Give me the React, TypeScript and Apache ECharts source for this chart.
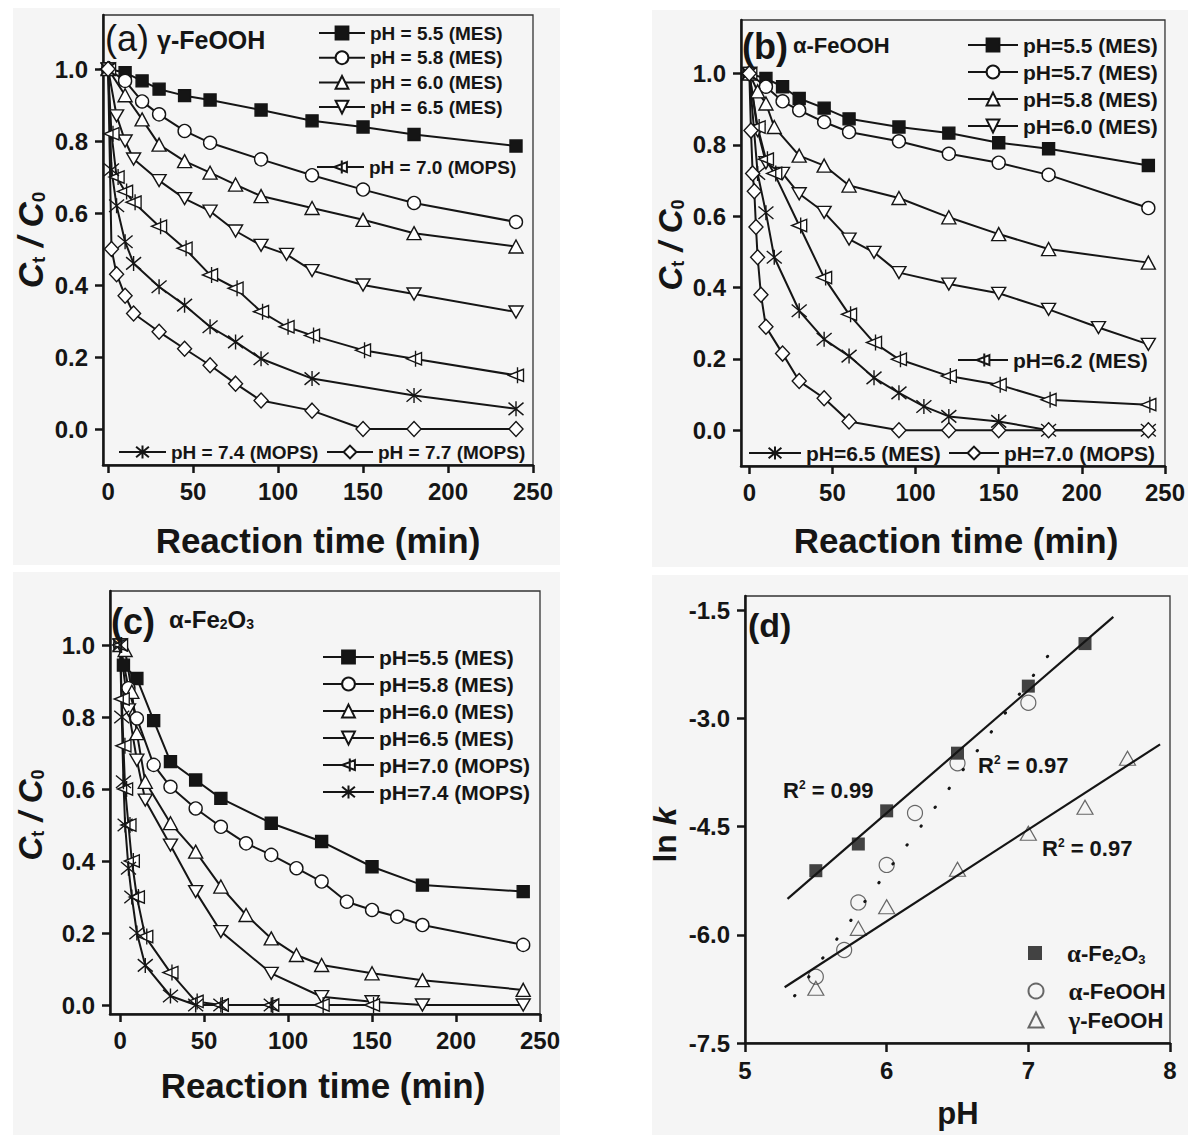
import React, { useEffect, useRef } from 'react';
import * as echarts from 'echarts';

const FONT = '"Liberation Sans", Arial, Helvetica, sans-serif';
const SERIF = '"Liberation Serif", "Times New Roman", serif';
const INK = '#151515';

// ---------- Panel (a) γ-FeOOH ----------
const aT55 = [0, 10, 20, 30, 45, 60, 90, 120, 150, 180, 240];
const aV55 = [1.0, 0.99, 0.967, 0.944, 0.926, 0.914, 0.886, 0.856, 0.839, 0.818, 0.786];
const aT58 = [0, 10, 20, 30, 45, 60, 90, 120, 150, 180, 240];
const aV58 = [1.0, 0.967, 0.91, 0.874, 0.828, 0.795, 0.749, 0.705, 0.665, 0.628, 0.575];
const aT60 = [0, 10, 20, 30, 45, 60, 75, 90, 120, 150, 180, 240];
const aV60 = [1.0, 0.927, 0.86, 0.79, 0.744, 0.712, 0.679, 0.647, 0.614, 0.581, 0.544, 0.507];
const aT65 = [0, 5, 10, 15, 30, 45, 60, 75, 90, 105, 120, 150, 180, 240];
const aV65 = [1.0, 0.87, 0.8, 0.75, 0.69, 0.64, 0.605, 0.55, 0.51, 0.485, 0.44, 0.4, 0.375, 0.325];
const aT70 = [0, 2, 5, 10, 15, 30, 45, 60, 75, 90, 105, 120, 150, 180, 240];
const aV70 = [1.0, 0.82, 0.7, 0.66, 0.63, 0.563, 0.502, 0.428, 0.391, 0.326, 0.284, 0.26, 0.219, 0.195, 0.149];
const aT74 = [0, 2, 5, 10, 15, 30, 45, 60, 75, 90, 120, 180, 240];
const aV74 = [1.0, 0.72, 0.62, 0.52, 0.46, 0.395, 0.344, 0.284, 0.242, 0.195, 0.14, 0.093, 0.056];
const aT77 = [0, 2, 5, 10, 15, 30, 45, 60, 75, 90, 120, 150, 180, 240];
const aV77 = [1.0, 0.5, 0.43, 0.37, 0.321, 0.27, 0.223, 0.177, 0.126, 0.079, 0.051, 0, 0, 0];

// ---------- Panel (b) α-FeOOH ----------
const bT55 = [0, 10, 20, 30, 45, 60, 90, 120, 150, 180, 240];
const bV55 = [1.0, 0.986, 0.963, 0.93, 0.903, 0.873, 0.85, 0.833, 0.806, 0.789, 0.742];
const bT57 = [0, 10, 20, 30, 45, 60, 90, 120, 150, 180, 240];
const bV57 = [1.0, 0.963, 0.922, 0.897, 0.864, 0.836, 0.81, 0.775, 0.75, 0.716, 0.623];
const bT58 = [0, 5, 10, 15, 30, 45, 60, 90, 120, 150, 180, 240];
const bV58 = [1.0, 0.95, 0.916, 0.85, 0.77, 0.742, 0.686, 0.651, 0.597, 0.55, 0.508, 0.47];
const bT60 = [0, 5, 10, 20, 30, 45, 60, 75, 90, 120, 150, 180, 210, 240];
const bV60 = [1.0, 0.84, 0.75, 0.72, 0.663, 0.611, 0.536, 0.499, 0.442, 0.41, 0.384, 0.339, 0.288, 0.241];
const bT62 = [0, 5, 10, 15, 30, 45, 60, 75, 90, 120, 150, 180, 240];
const bV62 = [1.0, 0.85, 0.76, 0.72, 0.574, 0.428, 0.325, 0.246, 0.199, 0.152, 0.128, 0.086, 0.072];
const bT65 = [0, 5, 10, 15, 30, 45, 60, 75, 90, 105, 120, 150, 180, 240];
const bV65 = [1.0, 0.72, 0.61, 0.485, 0.335, 0.255, 0.208, 0.147, 0.105, 0.067, 0.039, 0.025, 0, 0];
const bT70 = [0, 1, 2, 3, 4, 5, 7, 10, 20, 30, 45, 60, 90, 120, 150, 180, 240];
const bV70 = [1.0, 0.84, 0.72, 0.67, 0.57, 0.485, 0.38, 0.29, 0.215, 0.138, 0.09, 0.025, 0, 0, 0, 0, 0];

// ---------- Panel (c) α-Fe2O3 ----------
const cT55 = [0, 2, 10, 20, 30, 45, 60, 90, 120, 150, 180, 240];
const cV55 = [1.0, 0.944, 0.907, 0.79, 0.676, 0.625, 0.574, 0.505, 0.454, 0.384, 0.333, 0.315];
const cT58 = [0, 5, 10, 20, 30, 45, 60, 75, 90, 105, 120, 135, 150, 165, 180, 240];
const cV58 = [1.0, 0.88, 0.796, 0.667, 0.606, 0.546, 0.495, 0.449, 0.417, 0.38, 0.343, 0.287, 0.264, 0.245, 0.222, 0.167];
const cT60 = [0, 3, 7, 10, 15, 30, 45, 60, 75, 90, 105, 120, 150, 180, 240];
const cV60 = [1.0, 0.986, 0.87, 0.755, 0.62, 0.505, 0.426, 0.329, 0.25, 0.185, 0.139, 0.111, 0.088, 0.069, 0.042];
const cT65 = [0, 5, 10, 15, 30, 45, 60, 90, 120, 150, 180, 240];
const cV65 = [1.0, 0.82, 0.68, 0.569, 0.444, 0.315, 0.204, 0.088, 0.023, 0.009, 0, 0];
const cT70 = [0, 1, 2, 3, 5, 7, 10, 15, 30, 45, 60, 90, 120, 150];
const cV70 = [1.0, 0.85, 0.72, 0.6, 0.5, 0.4, 0.3, 0.19, 0.09, 0.01, 0, 0, 0, 0];
const cT74 = [0, 1, 2, 3, 5, 7, 10, 15, 30, 45, 60, 90];
const cV74 = [1.0, 0.8, 0.62, 0.5, 0.38, 0.3, 0.2, 0.11, 0.025, 0, 0, 0];

// ---------- Panel (d) ln k vs pH ----------
const dPhFe2O3 = [5.5, 5.8, 6.0, 6.5, 7.0, 7.4];
const dLnkFe2O3 = [-5.11, -4.74, -4.28, -3.48, -2.55, -1.96];
const dPhAFeOOH = [5.5, 5.7, 5.8, 6.0, 6.2, 6.5, 7.0];
const dLnkAFeOOH = [-6.58, -6.21, -5.55, -5.03, -4.31, -3.62, -2.78];
const dPhGFeOOH = [5.5, 5.8, 6.0, 6.5, 7.0, 7.4, 7.7];
const dLnkGFeOOH = [-6.74, -5.91, -5.61, -5.09, -4.59, -4.23, -3.55];
const fitRangeFe2O3 = [5.3, 7.6];
const fitRangeAFeOOH = [5.35, 7.15];
const fitRangeGFeOOH = [5.28, 7.93];

const timeTicks = [0, 50, 100, 150, 200, 250];
const ratioTicks = [0, 0.2, 0.4, 0.6, 0.8, 1.0];
const lnkTicks = [-7.5, -6.0, -4.5, -3.0, -1.5];

const SYM: any = {
  sq: { symbol: 'rect', size: 12, fill: INK },
  ci: { symbol: 'circle', size: 13, fill: '#fff' },
  tu: { symbol: 'triangle', size: [14, 13], fill: '#fff' },
  td: { symbol: 'path://M0,0L10,0L5,8.7Z', size: [14, 12], fill: '#fff' },
  lt: { symbol: 'path://M10,0L0,5L10,10Z M6,-1.5L6,11.5', size: [15, 16], fill: '#fff' },
  xs: { symbol: 'path://M0,0L10,10M10,0L0,10M5,-1L5,11', size: [15, 15], fill: '#fff' },
  di: { symbol: 'diamond', size: [14, 15], fill: '#fff' },
};

function lineSeries(name: string, idx: number, t: number[], v: number[], key: string) {
  const s = SYM[key];
  return {
    type: 'line',
    name,
    xAxisIndex: idx,
    yAxisIndex: idx,
    data: t.map((x, i) => [x, v[i]]),
    symbol: s.symbol,
    symbolSize: s.size,
    showSymbol: true,
    itemStyle: { color: s.fill, borderColor: INK, borderWidth: 1.4 },
    lineStyle: { color: INK, width: 2 },
    emphasis: { disabled: true },
  };
}

function fit(xs: number[], ys: number[]) {
  const n = xs.length;
  const mx = xs.reduce((a, b) => a + b, 0) / n;
  const my = ys.reduce((a, b) => a + b, 0) / n;
  let sxy = 0, sxx = 0;
  for (let i = 0; i < n; i++) { sxy += (xs[i] - mx) * (ys[i] - my); sxx += (xs[i] - mx) ** 2; }
  const b = sxy / sxx;
  const a = my - b * mx;
  return (x: number) => a + b * x;
}

const axisLineStyle = { show: true, onZero: false, lineStyle: { color: INK, width: 2.5 } };
const tickStyle = { color: INK, width: 2.5 };
const labelBase = { fontSize: 24, fontWeight: 'bold', color: INK, fontFamily: FONT };

function timeAxis(idx: number, min: number) {
  return {
    type: 'value', gridIndex: idx, min, max: 250,
    axisLine: axisLineStyle,
    axisTick: { show: true, length: 8, lineStyle: tickStyle, customValues: timeTicks },
    axisLabel: { ...labelBase, margin: 14, customValues: timeTicks, formatter: (v: number) => String(Math.round(v)) },
    splitLine: { show: false },
  };
}
function ratioAxis(idx: number, min: number) {
  return {
    type: 'value', gridIndex: idx, min, max: 1.15,
    axisLine: axisLineStyle,
    axisTick: { show: true, length: 8, lineStyle: tickStyle, customValues: ratioTicks },
    axisLabel: { ...labelBase, margin: 15, customValues: ratioTicks, formatter: (v: number) => v.toFixed(1) },
    splitLine: { show: false },
  };
}

function legend(names: string[], left: number, top: number, itemWidth: number, fontSize: number, lineHeight: number, itemGap: number, orient = 'vertical') {
  return {
    show: true, orient, left, top, padding: 0, itemGap, itemWidth, itemHeight: 16,
    data: names, selectedMode: false,
    formatter: (n: string) => n.split('|')[1],
    textStyle: { fontSize, fontWeight: 'bold', fontFamily: FONT, color: INK, lineHeight },
  };
}

const dRich = {
  sp: { width: 20 },
  g: { fontFamily: SERIF, fontSize: 25, fontWeight: 'bold', color: INK, lineHeight: 26 },
  t: { fontFamily: FONT, fontSize: 22, fontWeight: 'bold', color: INK, lineHeight: 26 },
  s: { fontFamily: FONT, fontSize: 13, fontWeight: 'bold', color: INK, verticalAlign: 'bottom', lineHeight: 26 },
};
function dLegend(name: string, text: string, cx: number, cy: number, size: number) {
  return {
    show: true, orient: 'vertical', left: cx - size / 2, top: cy - 13, padding: 0,
    itemWidth: size, itemHeight: size, data: [name], selectedMode: false,
    formatter: () => text,
    textStyle: { fontSize: 22, fontWeight: 'bold', fontFamily: FONT, color: INK, lineHeight: 26, rich: dRich },
  };
}

function txt(x: number, y: number, text: string, fontSize: number, extra: any = {}) {
  return {
    type: 'text', x, y, z: 100, silent: true,
    rotation: extra.rotation || 0,
    style: {
      text, fontSize, fontWeight: extra.fontWeight || 'bold', fontFamily: extra.fontFamily || FONT,
      fill: INK, align: extra.align || 'left', verticalAlign: 'middle', rich: extra.rich,
    },
  };
}

function ctRich(size: number) {
  return {
    c: { fontSize: size, fontWeight: 'bold', fontStyle: 'italic', fontFamily: FONT, fill: INK },
    s: { fontSize: Math.round(size * 0.55), fontWeight: 'bold', fontFamily: FONT, fill: INK, verticalAlign: 'bottom' },
  };
}
const ctText = '{c|C}{s|t}{c| / C}{s|0}';
const r2Rich = {
  r: { fontSize: 22, fontWeight: 'bold', fontFamily: FONT, fill: INK },
  u: { fontSize: 12, fontWeight: 'bold', fontFamily: FONT, fill: INK, verticalAlign: 'top' },
};

export default function App() {
  const ref = useRef<HTMLDivElement>(null);
  useEffect(() => {
    if (!ref.current) return;
    const chart = echarts.init(ref.current, undefined, { renderer: 'svg' });

    const fFe = fit(dPhFe2O3, dLnkFe2O3);
    const fA = fit(dPhAFeOOH, dLnkAFeOOH);
    const fG = fit(dPhGFeOOH, dLnkGFeOOH);

    const grid = (left: number, top: number, width: number, height: number) => ({
      left, top, width, height, show: true, borderColor: '#333', borderWidth: 1.3, backgroundColor: 'transparent',
    });

    const series: any[] = [
      lineSeries('a|pH = 5.5 (MES)', 0, aT55, aV55, 'sq'),
      lineSeries('a|pH = 5.8 (MES)', 0, aT58, aV58, 'ci'),
      lineSeries('a|pH = 6.0 (MES)', 0, aT60, aV60, 'tu'),
      lineSeries('a|pH = 6.5 (MES)', 0, aT65, aV65, 'td'),
      lineSeries('a|pH = 7.0 (MOPS)', 0, aT70, aV70, 'lt'),
      lineSeries('a|pH = 7.4 (MOPS)', 0, aT74, aV74, 'xs'),
      lineSeries('a|pH = 7.7 (MOPS)', 0, aT77, aV77, 'di'),

      lineSeries('b|pH=5.5 (MES)', 1, bT55, bV55, 'sq'),
      lineSeries('b|pH=5.7 (MES)', 1, bT57, bV57, 'ci'),
      lineSeries('b|pH=5.8 (MES)', 1, bT58, bV58, 'tu'),
      lineSeries('b|pH=6.0 (MES)', 1, bT60, bV60, 'td'),
      lineSeries('b|pH=6.2 (MES)', 1, bT62, bV62, 'lt'),
      lineSeries('b|pH=6.5 (MES)', 1, bT65, bV65, 'xs'),
      lineSeries('b|pH=7.0 (MOPS)', 1, bT70, bV70, 'di'),

      lineSeries('c|pH=5.5 (MES)', 2, cT55, cV55, 'sq'),
      lineSeries('c|pH=5.8 (MES)', 2, cT58, cV58, 'ci'),
      lineSeries('c|pH=6.0 (MES)', 2, cT60, cV60, 'tu'),
      lineSeries('c|pH=6.5 (MES)', 2, cT65, cV65, 'td'),
      lineSeries('c|pH=7.0 (MOPS)', 2, cT70, cV70, 'lt'),
      lineSeries('c|pH=7.4 (MOPS)', 2, cT74, cV74, 'xs'),

      {
        type: 'line', name: 'fitFe2O3', xAxisIndex: 3, yAxisIndex: 3, symbol: 'none',
        data: fitRangeFe2O3.map((x) => [x, fFe(x)]), lineStyle: { color: INK, width: 2.2 }, emphasis: { disabled: true },
      },
      {
        type: 'line', name: 'fitAFeOOH', xAxisIndex: 3, yAxisIndex: 3, symbol: 'none',
        data: fitRangeAFeOOH.map((x) => [x, fA(x)]),
        lineStyle: { color: INK, width: 3, type: [0.5, 23], cap: 'round' }, emphasis: { disabled: true },
      },
      {
        type: 'line', name: 'fitGFeOOH', xAxisIndex: 3, yAxisIndex: 3, symbol: 'none',
        data: fitRangeGFeOOH.map((x) => [x, fG(x)]), lineStyle: { color: INK, width: 2.2 }, emphasis: { disabled: true },
      },
      {
        type: 'scatter', name: 'd|Fe2O3', xAxisIndex: 3, yAxisIndex: 3, symbol: 'rect', symbolSize: 13,
        data: dPhFe2O3.map((x, i) => [x, dLnkFe2O3[i]]), itemStyle: { color: INK }, emphasis: { disabled: true },
      },
      {
        type: 'scatter', name: 'd|aFeOOH', xAxisIndex: 3, yAxisIndex: 3, symbol: 'circle', symbolSize: 15,
        data: dPhAFeOOH.map((x, i) => [x, dLnkAFeOOH[i]]),
        itemStyle: { color: 'rgba(255,255,255,0)', borderColor: '#444', borderWidth: 1.2 }, emphasis: { disabled: true },
      },
      {
        type: 'scatter', name: 'd|gFeOOH', xAxisIndex: 3, yAxisIndex: 3, symbol: 'triangle', symbolSize: [16, 14],
        data: dPhGFeOOH.map((x, i) => [x, dLnkGFeOOH[i]]),
        itemStyle: { color: 'rgba(255,255,255,0)', borderColor: '#444', borderWidth: 1.2 }, emphasis: { disabled: true },
      },
    ];

    const bgRects = [
      [13, 8, 547, 557],
      [652, 10, 536, 557],
      [13, 572, 547, 563],
      [652, 575, 536, 560],
    ].map((r) => ({
      type: 'rect', z: -100, silent: true,
      shape: { x: r[0], y: r[1], width: r[2], height: r[3] },
      style: { fill: '#f5f5f5' },
    }));

    const option: any = {
      animation: false,
      backgroundColor: '#ffffff',
      grid: [
        grid(103, 15, 430, 450),
        grid(741, 20, 427, 446),
        grid(110, 591, 430, 423),
        grid(745, 596, 425, 447),
      ],
      xAxis: [
        timeAxis(0, -3),
        timeAxis(1, -5),
        timeAxis(2, -6),
        {
          type: 'value', gridIndex: 3, min: 5, max: 8, interval: 1,
          axisLine: axisLineStyle,
          axisTick: { show: true, length: 9, lineStyle: tickStyle },
          axisLabel: { ...labelBase, margin: 15, formatter: (v: number) => String(v) },
          splitLine: { show: false },
        },
      ],
      yAxis: [
        ratioAxis(0, -0.1),
        ratioAxis(1, -0.1),
        ratioAxis(2, -0.025),
        {
          type: 'value', gridIndex: 3, min: -7.5, max: -1.3,
          axisLine: axisLineStyle,
          axisTick: { show: true, length: 8, lineStyle: tickStyle, customValues: lnkTicks },
          axisLabel: { ...labelBase, margin: 15, customValues: lnkTicks, formatter: (v: number) => v.toFixed(1) },
          splitLine: { show: false },
        },
      ],
      legend: [
        legend(['a|pH = 5.5 (MES)', 'a|pH = 5.8 (MES)', 'a|pH = 6.0 (MES)', 'a|pH = 6.5 (MES)'], 318, 23, 46, 19, 20, 4.7),
        legend(['a|pH = 7.0 (MOPS)'], 316, 157, 47, 19, 20, 5),
        legend(['a|pH = 7.4 (MOPS)'], 118, 442, 47, 19, 20, 5),
        legend(['a|pH = 7.7 (MOPS)'], 326, 442, 46, 19, 20, 5),
        legend(['b|pH=5.5 (MES)', 'b|pH=5.7 (MES)', 'b|pH=5.8 (MES)', 'b|pH=6.0 (MES)'], 967, 34, 50, 21, 22, 5),
        legend(['b|pH=6.2 (MES)'], 957, 349, 50, 21, 22, 5),
        legend(['b|pH=6.5 (MES)'], 748, 442, 52, 21, 22, 5),
        legend(['b|pH=7.0 (MOPS)'], 948, 442, 50, 21, 22, 5),
        legend(['c|pH=5.5 (MES)', 'c|pH=5.8 (MES)', 'c|pH=6.0 (MES)', 'c|pH=6.5 (MES)', 'c|pH=7.0 (MOPS)', 'c|pH=7.4 (MOPS)'], 322, 646, 51, 21, 22, 5),
        dLegend('d|Fe2O3', '{sp|}{g|α}{t|-Fe}{s|2}{t|O}{s|3}', 1035, 953, 14),
        dLegend('d|aFeOOH', '{sp|}{g|α}{t|-FeOOH}', 1035, 991, 15),
        dLegend('d|gFeOOH', '{sp|}{g|γ}{t|-FeOOH}', 1035, 1020, 15),
      ],
      graphic: {
        elements: [
          ...bgRects,
          // panel labels
          txt(105, 38, '(a)', 36, { fontWeight: 'normal' }),
          txt(157, 40, 'γ-FeOOH', 25),
          txt(742, 46, '(b)', 36),
          txt(793, 45, 'α-FeOOH', 22),
          txt(111, 621, '(c)', 36),
          txt(169, 619, '{t|α-Fe}{s|2}{t|O}{s|3}', 24, {
            rich: {
              t: { fontSize: 24, fontWeight: 'bold', fontFamily: FONT, fill: INK },
              s: { fontSize: 14, fontWeight: 'bold', fontFamily: FONT, fill: INK, verticalAlign: 'bottom' },
            },
          }),
          txt(748, 625, '(d)', 34),
          // axis titles
          txt(30, 240, ctText, 35, { rotation: Math.PI / 2, align: 'center', rich: ctRich(35) }),
          txt(670, 245, ctText, 33, { rotation: Math.PI / 2, align: 'center', rich: ctRich(33) }),
          txt(30, 815, ctText, 33, { rotation: Math.PI / 2, align: 'center', rich: ctRich(33) }),
          txt(665, 835, '{n|ln }{k|k}', 32, {
            rotation: Math.PI / 2, align: 'center',
            rich: {
              n: { fontSize: 32, fontWeight: 'bold', fontFamily: FONT, fill: INK },
              k: { fontSize: 32, fontWeight: 'bold', fontStyle: 'italic', fontFamily: FONT, fill: INK },
            },
          }),
          txt(318, 540, 'Reaction time (min)', 35, { align: 'center' }),
          txt(956, 540, 'Reaction time (min)', 35, { align: 'center' }),
          txt(323, 1085, 'Reaction time (min)', 35, { align: 'center' }),
          txt(958, 1113, 'pH', 31, { align: 'center' }),
          // R² annotations
          txt(783, 790, '{r|R}{u|2}{r| = 0.99}', 22, { rich: r2Rich }),
          txt(978, 765, '{r|R}{u|2}{r| = 0.97}', 22, { rich: r2Rich }),
          txt(1042, 848, '{r|R}{u|2}{r| = 0.97}', 22, { rich: r2Rich }),
        ],
      },
      series,
    };

    chart.setOption(option);
    return () => chart.dispose();
  }, []);

  return (
    <div
      ref={ref}
      style={{ position: 'absolute', left: 0, top: 0, width: 1188, height: 1135 }}
    />
  );
}
